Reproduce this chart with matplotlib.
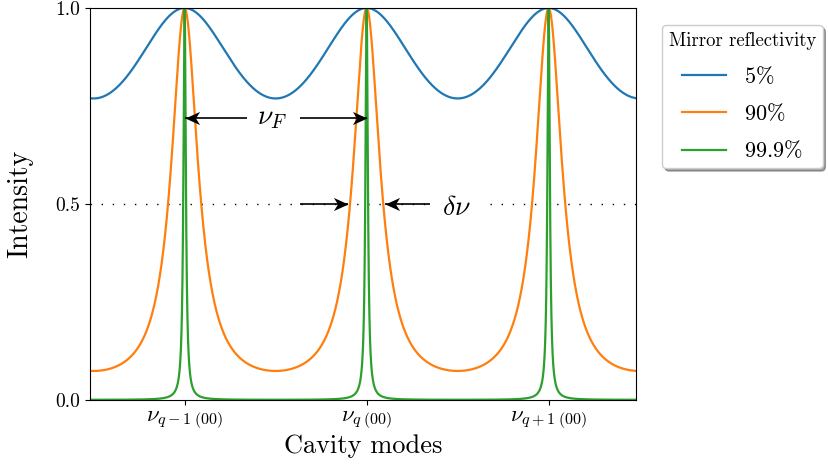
import numpy as np
import matplotlib
matplotlib.use("Agg")
import matplotlib.pyplot as plt
from matplotlib.path import Path

plt.rcParams['font.family'] = 'serif'
plt.rcParams['font.serif'] = ['cmr10']
plt.rcParams['mathtext.fontset'] = 'cm'
plt.rcParams['axes.unicode_minus'] = False
plt.rcParams['axes.formatter.use_mathtext'] = True

# ---- data ----
reflectivity_labels = [r'$5\%$', r'$90\%$', r'$99.9\%$']
# coefficient of finesse of each Airy curve, estimated from the curve minima / widths
finesse_coeff = [0.30, 12.5, 1600.0]
colors = ['#1f77b4', '#ff7f0e', '#2ca02c']
mode_positions = [0, 1, 2]
mode_labels = [r'$\nu_{q-1\;(00)}$', r'$\nu_{q\;(00)}$', r'$\nu_{q+1\;(00)}$']
x_range = (-0.52, 2.48)
y_ticks = [0.0, 0.5, 1.0]
nuF_level = 0.72
half_level = 0.5

x = np.linspace(x_range[0], x_range[1], 30001)

fig = plt.figure(figsize=(8.29, 4.71), dpi=100)
ax = fig.add_axes([90/829, 1-400/471, (636-90)/829, (400-8)/471])

for F, c, lab in zip(finesse_coeff, colors, reflectivity_labels):
    y = 1.0 / (1.0 + F * np.sin(np.pi * x) ** 2)
    ax.plot(x, y, color=c, lw=1.6, label=lab)

ax.set_xlim(*x_range)
ax.set_ylim(0, 1)
ax.set_yticks(y_ticks)
ax.set_yticklabels(['0.0', '0.5', '1.0'])
ax.set_xticks(mode_positions)
ax.set_xticklabels(mode_labels)
ax.tick_params(axis='y', labelsize=14)
ax.tick_params(axis='x', labelsize=16.5)
ax.set_xlabel('Cavity modes', fontsize=19, labelpad=2)
ax.set_ylabel('Intensity', fontsize=20, labelpad=16)

# dotted half-maximum line
ax.plot(x_range, [half_level, half_level], color='black', lw=1.0,
        dashes=(1, 7), zorder=1)

# stealth-like arrow heads
def head(direction):
    d = direction
    verts = [(0, 0), (-d * 1.0, 0.45), (-d * 0.72, 0), (-d * 1.0, -0.45), (0, 0)]
    codes = [Path.MOVETO, Path.LINETO, Path.LINETO, Path.LINETO, Path.CLOSEPOLY]
    return Path(verts, codes)

def arrow(x0, x1, yv):
    d = 1 if x1 > x0 else -1
    ax.plot([x0, x1], [yv, yv], color='black', lw=1.2, zorder=5,
            solid_capstyle='butt')
    ax.plot([x1], [yv], marker=head(d), markersize=21, color='black',
            markeredgewidth=0, zorder=6, linestyle='none')

# free spectral range arrow
m0, m1 = mode_positions[0], mode_positions[1]
arrow(0.342, m0, nuF_level)
arrow(0.633, m1, nuF_level)
ax.text(0.482, nuF_level, r'$\nu_F$', fontsize=20, ha='center', va='center',
        zorder=7)

# linewidth arrows (orange curve half width)
hw = np.arcsin(1 / np.sqrt(finesse_coeff[1])) / np.pi
tip = hw + 0.012
arrow(m1 - 0.367, m1 - tip, half_level)
arrow(m1 + 0.367, m1 + tip, half_level)
ax.text(1.494, half_level - 0.01, r'$\delta\nu$', fontsize=20, ha='center',
        va='center', zorder=7,
        bbox=dict(facecolor='white', edgecolor='none', pad=9))

leg = ax.legend(title='Mirror reflectivity', loc='upper left',
                bbox_to_anchor=(662/829, 1 - 25/471),
                bbox_transform=fig.transFigure, borderaxespad=0,
                fontsize=16, title_fontsize=13.5, shadow=True, fancybox=True,
                labelspacing=0.7, borderpad=0.3)

fig.savefig('out.png', dpi=100)
